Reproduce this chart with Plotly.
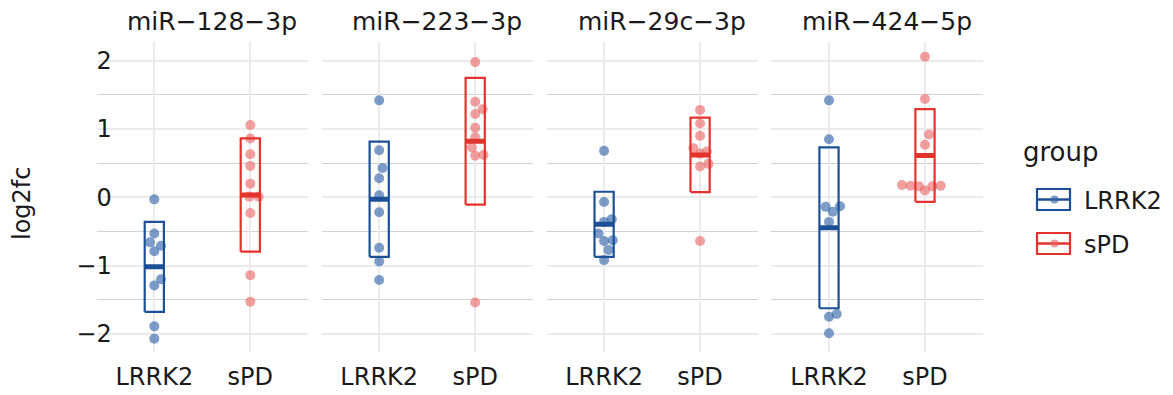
import numpy as np
import plotly.graph_objects as go

# ---------------- data ----------------
mirnas = ["miR−128−3p", "miR−223−3p", "miR−29c−3p", "miR−424−5p"]
groups = ["LRRK2", "sPD"]
y_ticks = [-2, -1, 0, 1, 2]
y_tick_labels = ["−2", "−1", "0", "1", "2"]

mir128_LRRK2 = [-0.03, -0.53, -0.66, -0.71, -0.79, -1.20, -1.29, -1.89, -2.07]
mir128_sPD = [1.06, 0.86, 0.63, 0.46, 0.20, 0.01, 0.01, -0.23, -1.14, -1.53]
mir223_LRRK2 = [1.42, 0.69, 0.43, 0.28, 0.03, -0.22, -0.74, -0.94, -1.21]
mir223_sPD = [1.98, 1.40, 1.29, 1.22, 1.02, 0.88, 0.73, 0.61, 0.62, -1.54]
mir29c_LRRK2 = [0.68, -0.07, -0.32, -0.36, -0.53, -0.64, -0.63, -0.77, -0.92]
mir29c_sPD = [1.28, 1.08, 0.90, 0.72, 0.67, 0.64, 0.49, 0.45, -0.64]
mir424_LRRK2 = [1.42, 0.85, -0.14, -0.13, -0.21, -0.36, -1.75, -1.71, -1.99]
mir424_sPD = [2.06, 1.44, 0.92, 0.77, 0.18, 0.17, 0.16, 0.10, 0.16, 0.17]

# beeswarm offsets (category units)
swarm128_LRRK2 = [0, 0, -0.045, 0.07, 0, 0.07, 0, 0, 0]
swarm128_sPD = [0, 0, 0, 0, 0, -0.01, 0.087, 0, 0, 0]
swarm223_LRRK2 = [0, 0, 0.035, 0, 0, 0, 0, 0, 0]
swarm223_sPD = [0, 0, 0.077, 0, 0, 0, -0.035, 0, 0.087, 0]
swarm29c_LRRK2 = [0, 0, 0.08, 0, -0.06, 0, 0.09, 0.045, 0]
swarm29c_sPD = [0, 0, 0, -0.07, 0.07, 0, 0.087, 0, 0]
swarm424_LRRK2 = [0, 0, -0.035, 0.115, 0.039, 0, 0, 0.08, 0]
swarm424_sPD = [0, 0, 0.042, 0, -0.24, -0.15, -0.063, 0, 0.076, 0.164]

panel_values = [
    (mir128_LRRK2, mir128_sPD),
    (mir223_LRRK2, mir223_sPD),
    (mir29c_LRRK2, mir29c_sPD),
    (mir424_LRRK2, mir424_sPD),
]
panel_swarm = [
    (swarm128_LRRK2, swarm128_sPD),
    (swarm223_LRRK2, swarm223_sPD),
    (swarm29c_LRRK2, swarm29c_sPD),
    (swarm424_LRRK2, swarm424_sPD),
]

# ---------------- style ----------------
PAGE_OFF = 8  # default body margin of the page
W, H = 1173 - PAGE_OFF, 395 - PAGE_OFF
line_colors = {"LRRK2": "#1c5096", "sPD": "#e3332c"}
point_colors = {"LRRK2": "rgba(53,104,170,0.65)", "sPD": "rgba(233,95,95,0.6)"}
FONT = "DejaVu Sans"
TXT = "#1a1a1a"
FS = 24
half_w = 0.1


def px(x):
    return (x - PAGE_OFF) / W


def py(y):
    return (H - (y - PAGE_OFF)) / H


panel_left = [96.7, 321.6, 546.5, 771.4]
panel_width = 211.2
y_top_px, y_bot_px = 42.3, 352.3
y_range = [-2.27, 2.27]

fig = go.Figure()
layout_axes = {}

for i, (vals, swarm) in enumerate(zip(panel_values, panel_swarm)):
    n = "" if i == 0 else str(i + 1)
    xa, ya = "x" + n, "y" + n
    for gi, g in enumerate(groups):
        v = np.array(vals[gi], dtype=float)
        c = gi + 1
        xs = c + np.array(swarm[gi], dtype=float)
        fig.add_trace(go.Scatter(
            x=xs, y=v, mode="markers", xaxis=xa, yaxis=ya,
            marker=dict(size=10, color=point_colors[g], line=dict(width=0)),
            showlegend=False, hoverinfo="skip"))
    for gi, g in enumerate(groups):
        v = np.array(vals[gi], dtype=float)
        c = gi + 1
        m = v.mean()
        sd = v.std(ddof=1)
        lo, hi = m - sd, m + sd
        fig.add_trace(go.Scatter(
            x=[c - half_w, c + half_w, c + half_w, c - half_w, c - half_w],
            y=[lo, lo, hi, hi, lo], mode="lines", xaxis=xa, yaxis=ya,
            line=dict(color=line_colors[g], width=2.2),
            showlegend=False, hoverinfo="skip"))
        fig.add_trace(go.Scatter(
            x=[c - half_w, c + half_w], y=[m, m], mode="lines", xaxis=xa, yaxis=ya,
            line=dict(color=line_colors[g], width=5),
            showlegend=False, hoverinfo="skip"))

    x0 = panel_left[i]
    layout_axes["xaxis" + n] = dict(
        domain=[px(x0), px(x0 + panel_width)], anchor=ya, range=[0.4, 2.6],
        tickvals=[1, 2], ticktext=groups, showgrid=True, gridcolor="#ebebeb",
        gridwidth=2, zeroline=False, showline=False, ticks="",
        ticklabelstandoff=8,
        tickfont=dict(family=FONT, size=FS, color=TXT), fixedrange=True)
    layout_axes["yaxis" + n] = dict(
        domain=[py(y_bot_px), py(y_top_px)], anchor=xa, range=y_range,
        tickvals=y_ticks, ticktext=y_tick_labels, showticklabels=(i == 0),
        showgrid=True, gridcolor="#ebebeb", gridwidth=2, zeroline=False,
        showline=False, ticks="", ticklabelstandoff=-16,
        minor=dict(tickvals=[-1.5, -0.5, 0.5, 1.5], showgrid=True,
                   gridcolor="#d2d2d2", gridwidth=1, ticks=""),
        tickfont=dict(family=FONT, size=FS, color=TXT), fixedrange=True)

annotations = []
for i, name in enumerate(mirnas):
    cx = panel_left[i] + panel_width / 2 + 10
    annotations.append(dict(
        text=name, x=px(cx), y=py(22), xref="paper", yref="paper",
        showarrow=False, xanchor="center", yanchor="middle",
        font=dict(family=FONT, size=25, color=TXT)))

annotations.append(dict(
    text="log2fc", x=px(22), y=py(203), xref="paper", yref="paper",
    showarrow=False, textangle=-90, xanchor="center", yanchor="middle",
    font=dict(family=FONT, size=FS, color=TXT)))

# manual legend
annotations.append(dict(
    text="group", x=px(1021), y=py(152), xref="paper", yref="paper",
    showarrow=False, xanchor="left", yanchor="middle",
    font=dict(family=FONT, size=26, color=TXT)))
shapes = []
key_centers = {"LRRK2": 199.5, "sPD": 243.5}
for g in groups:
    yc = key_centers[g]
    shapes.append(dict(type="rect", xref="paper", yref="paper",
                       x0=px(1037), x1=px(1070), y0=py(yc - 10.5), y1=py(yc + 10.5),
                       line=dict(color=line_colors[g], width=2.2), fillcolor="rgba(0,0,0,0)"))
    shapes.append(dict(type="line", xref="paper", yref="paper",
                       x0=px(1037), x1=px(1070), y0=py(yc), y1=py(yc),
                       line=dict(color=line_colors[g], width=2.5)))
    shapes.append(dict(type="circle", xref="paper", yref="paper",
                       x0=px(1050.5), x1=px(1058.5), y0=py(yc - 4), y1=py(yc + 4),
                       line=dict(width=0), fillcolor=point_colors[g]))
    annotations.append(dict(
        text=g, x=px(1082), y=py(yc + 1), xref="paper", yref="paper",
        showarrow=False, xanchor="left", yanchor="middle",
        font=dict(family=FONT, size=FS, color=TXT)))

fig.update_layout(
    width=W, height=H, margin=dict(l=0, r=0, t=0, b=0),
    paper_bgcolor="white", plot_bgcolor="white",
    showlegend=False, annotations=annotations, shapes=shapes,
    **layout_axes)

fig.write_html("out.html")
